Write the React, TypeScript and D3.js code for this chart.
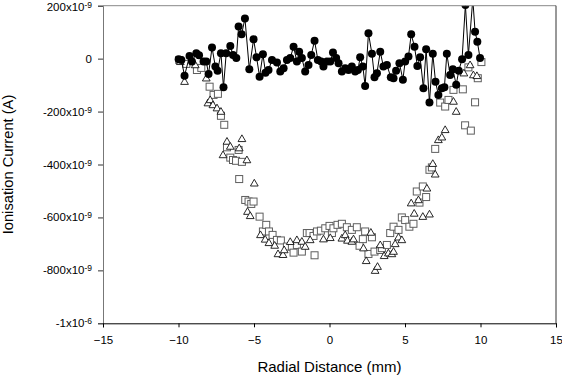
import React, { useRef, useEffect } from "react";
import * as d3 from "d3";

// radial distance (mm) and ionisation current (nA) for each probe trace
const circleX = [-9.99, -9.81, -9.6, -9.27, -9.11, -8.82, -8.64, -8.34, -8.16, -8.01, -7.78, -7.56, -7.41, -7.19, -7.02, -6.84, -6.57, -6.39, -6.17, -6.02, -5.82, -5.6, -5.31, -5.03, -4.83, -4.63, -4.41, -4.24, -4.04, -3.81, -3.48, -3.26, -3.04, -2.82, -2.6, -2.38, -2.16, -2.01, -1.83, -1.61, -1.39, -1.21, -0.99, -0.77, -0.55, -0.4, -0.17, 0.05, 0.23, 0.44, 0.6, 0.82, 1.04, 1.26, 1.48, 1.7, 1.88, 2.03, 2.21, 2.36, 2.58, 2.81, 2.98, 3.14, 3.36, 3.57, 3.8, 4.06, 4.24, 4.41, 4.63, 4.86, 5.01, 5.23, 5.41, 5.63, 5.82, 6.0, 6.22, 6.4, 6.62, 6.84, 7.02, 7.21, 7.44, 7.61, 7.77, 7.99, 8.17, 8.39, 8.56, 8.78, 9.0, 9.2, 9.49, 9.64, 9.79, 9.97];
const circleY = [-2, -5, -65, 10, -11, 20, 13, -11, -11, -58, 42, -30, -46, 20, -108, 20, 48, 14, 2, 121, 92, 152, -40, 73, 5, -68, 17, -53, -43, -5, -15, -49, -36, -5, 2, 45, -11, 26, 2, -49, -24, 14, 68, -5, -11, -30, -11, -11, 23, 2, -17, -49, -36, -43, -30, -49, -43, 5, -30, -103, 96, 18, -70, -55, 26, -30, -24, -70, -74, -46, -17, -80, -11, 8, 92, 45, -28, 5, -112, 35, -166, 18, -87, -137, -112, -108, 18, -62, -40, -99, -46, -2, 203, 14, 225, 102, 64, 2];

const squareX = [-9.95, -9.48, -8.78, -8.49, -7.94, -7.68, -7.39, -7.19, -6.97, -6.79, -6.57, -6.39, -6.19, -6.02, -5.8, -5.98, -5.58, -5.36, -5.18, -5.03, -4.63, -4.41, -4.19, -4.01, -3.77, -3.48, -3.22, -2.82, -2.49, -2.38, -2.16, -1.83, -1.5, -1.32, -1.06, -0.99, -0.83, -0.57, -0.28, 0.0, 0.16, 0.26, 0.53, 0.82, 1.15, 1.48, 1.81, 1.99, 2.21, 2.36, 2.58, 2.81, 2.98, 3.36, 3.47, 3.8, 4.02, 4.24, 4.57, 4.79, 5.01, 5.29, 5.56, 5.78, 5.96, 6.18, 6.4, 6.62, 6.78, 7.0, 7.33, 7.66, 7.88, 8.21, 8.83, 8.98, 9.2, 9.36, 9.64, 9.82, 10.06];
const squareY = [-5, -20, -43, -35, -106, -137, -133, -216, -250, -335, -374, -383, -386, -345, -390, -455, -534, -540, -549, -540, -597, -653, -628, -653, -666, -685, -687, -710, -710, -733, -704, -729, -659, -659, -670, -743, -653, -650, -641, -632, -659, -641, -628, -624, -637, -647, -637, -707, -682, -653, -738, -675, -729, -723, -716, -704, -659, -635, -647, -600, -610, -635, -624, -502, -544, -483, -523, -420, -411, -341, -166, -181, -156, -118, -116, -252, -33, -272, -165, -74, -13];

const triangleX = [-9.88, -9.6, -8.89, -8.16, -8.05, -7.9, -7.72, -7.45, -7.19, -7.05, -6.79, -6.57, -5.98, -5.8, -5.47, -5.43, -5.25, -4.98, -4.57, -4.26, -4.01, -3.63, -3.41, -3.08, -3.0, -2.6, -2.16, -1.83, -1.61, -1.28, -0.4, 0.05, 0.82, 1.04, 1.19, 1.48, 1.59, 2.25, 2.43, 2.74, 3.02, 3.18, 3.36, 3.62, 3.9, 4.13, 4.24, 4.35, 4.57, 4.79, 5.41, 5.61, 5.89, 6.18, 6.45, 6.62, 6.84, 7.0, 7.21, 7.44, 7.66, 8.21, 8.39, 8.9, 9.31, 9.53, 9.76];
const triangleY = [-12, -87, -24, -74, -168, -156, -175, -187, -200, -364, -313, -332, -338, -303, -383, -578, -594, -471, -666, -683, -696, -706, -738, -741, -723, -692, -685, -691, -710, -685, -682, -677, -679, -666, -687, -691, -682, -716, -764, -657, -801, -786, -704, -745, -735, -738, -729, -700, -675, -685, -546, -585, -534, -597, -490, -588, -397, -437, -307, -297, -269, -162, -200, -55, -24, -62, -65];

const xTicks = [-15, -10, -5, 0, 5, 10, 15];
const yTicks = [200, 0, -200, -400, -600, -800, -1000];
const yTickBase = ["200x10", "0", "-200x10", "-400x10", "-600x10", "-800x10", "-1x10"];
const yTickExp = ["-9", "", "-9", "-9", "-9", "-9", "-6"];

const Chart = () => {
  const ref = useRef<HTMLDivElement>(null);

  useEffect(() => {
    document.body.style.margin = "0";
    const width = 562;
    const height = 377;
    const left = 103, right = 556, top = 5.7, bottom = 323.3;
    const font = "'Liberation Sans', Arial, sans-serif";

    const x = d3.scaleLinear().domain([-15, 15]).range([left, right]);
    const y = d3.scaleLinear().domain([-1000, 200]).range([bottom, top]);

    const svg = d3.create("svg")
      .attr("width", width)
      .attr("height", height)
      .attr("viewBox", [0, 0, width, height])
      .style("display", "block")
      .style("font-family", font);

    svg.append("rect").attr("width", width).attr("height", height).attr("fill", "#fff");

    svg.append("clipPath").attr("id", "plot-clip")
      .append("rect")
      .attr("x", left).attr("y", top)
      .attr("width", right - left).attr("height", bottom - top);

    const plot = svg.append("g").attr("clip-path", "url(#plot-clip)");

    // open squares
    const squares = squareX.map((v, i) => ({ x: v, y: squareY[i] }));
    plot.append("g")
      .selectAll("rect")
      .data(squares)
      .join("rect")
      .attr("x", d => x(d.x) - 3.5)
      .attr("y", d => y(d.y) - 3.5)
      .attr("width", 7)
      .attr("height", 7)
      .attr("fill", "#fff")
      .attr("stroke", "#5e5e5e")
      .attr("stroke-width", 1);

    // open triangles
    const triangles = triangleX.map((v, i) => ({ x: v, y: triangleY[i] }));
    const tri = d3.symbol().type(d3.symbolTriangle).size(26);
    plot.append("g")
      .selectAll("path")
      .data(triangles)
      .join("path")
      .attr("transform", d => `translate(${x(d.x)},${y(d.y) + 0.5})`)
      .attr("d", tri)
      .attr("fill", "#fff")
      .attr("stroke", "#111")
      .attr("stroke-width", 0.9);

    // filled circles joined by a line
    const circles = circleX.map((v, i) => ({ x: v, y: circleY[i] }));
    const line = d3.line<{ x: number; y: number }>().x(d => x(d.x)).y(d => y(d.y));
    plot.append("path")
      .datum(circles)
      .attr("d", line)
      .attr("fill", "none")
      .attr("stroke", "#000")
      .attr("stroke-width", 1);

    plot.append("g")
      .selectAll("circle")
      .data(circles)
      .join("circle")
      .attr("cx", d => x(d.x))
      .attr("cy", d => y(d.y))
      .attr("r", 4)
      .attr("fill", "#000");

    // frame
    svg.append("line").attr("x1", left).attr("x2", right).attr("y1", top).attr("y2", top)
      .attr("stroke", "#888").attr("stroke-width", 1);
    svg.append("line").attr("x1", right).attr("x2", right).attr("y1", top).attr("y2", bottom)
      .attr("stroke", "#333").attr("stroke-width", 1);

    // y axis
    const yAxis = svg.append("g").attr("transform", `translate(${left},0)`)
      .call(d3.axisLeft(y).tickValues(yTicks).tickSize(5).tickFormat(() => ""));
    yAxis.select(".domain").attr("stroke", "#777");
    yAxis.selectAll(".tick line").attr("stroke", "#333");
    yAxis.selectAll(".tick text").remove();

    yTicks.forEach((t, i) => {
      const txt = svg.append("text")
        .attr("x", 92)
        .attr("y", Math.max(y(t) + 4, 11))
        .attr("text-anchor", "end")
        .attr("font-size", 11.5)
        .attr("fill", "#000");
      txt.append("tspan").text(yTickBase[i]);
      if (yTickExp[i]) {
        txt.append("tspan").attr("dy", -3).attr("font-size", 8.5).text(yTickExp[i]);
      }
    });

    // x axis
    const xAxis = svg.append("g").attr("transform", `translate(0,${bottom})`)
      .call(d3.axisBottom(x).tickValues(xTicks).tickSize(4).tickFormat(d3.format("d")));
    xAxis.select(".domain").attr("stroke", "#000");
    xAxis.selectAll(".tick text")
      .attr("font-family", font)
      .attr("font-size", 11.5)
      .attr("dy", 0)
      .attr("y", 21)
      .attr("fill", "#000");

    // titles
    svg.append("text")
      .attr("x", (left + right) / 2)
      .attr("y", 372)
      .attr("text-anchor", "middle")
      .attr("font-size", 15)
      .attr("fill", "#000")
      .text("Radial Distance (mm)");

    svg.append("text")
      .attr("transform", `translate(12.5,${(top + bottom) / 2}) rotate(-90)`)
      .attr("text-anchor", "middle")
      .attr("font-size", 14.7)
      .attr("fill", "#000")
      .text("Ionisation Current (A)");

    ref.current!.innerHTML = "";
    ref.current!.appendChild(svg.node()!);
  }, []);

  return <div ref={ref} />;
};

export default function App() {
  return <Chart />;
}
